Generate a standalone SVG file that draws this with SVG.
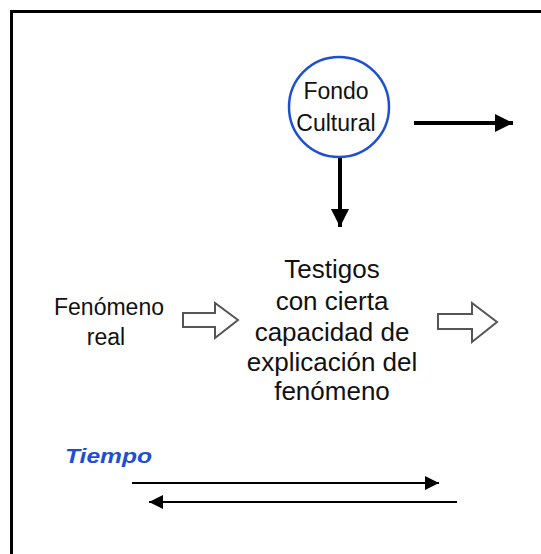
<svg xmlns="http://www.w3.org/2000/svg" width="541" height="554" viewBox="0 0 541 554">
<style>
  text { font-family: "Liberation Sans", Arial, sans-serif; fill: #111; text-anchor: middle; }
  .mid { font-size: 26px; }
  .left { font-size: 23px; }
  .circ { font-size: 23px; }
  .hollow { fill: #fff; stroke: #555; stroke-width: 2; stroke-linejoin: miter; }
  .solid { stroke: #000; stroke-width: 4; fill: none; }
  .thin { stroke: #000; stroke-width: 2; fill: none; }
</style>
<defs>
  <marker id="headBig" viewBox="0 0 10 10" refX="10" refY="5" markerWidth="4.5" markerHeight="5" markerUnits="strokeWidth" orient="auto">
    <path d="M0,0 L10,5 L0,10 Z" fill="#000"/>
  </marker>
  <marker id="headThin" viewBox="0 0 10 10" refX="10" refY="5" markerWidth="7" markerHeight="7" markerUnits="strokeWidth" orient="auto">
    <path d="M0,0 L10,5 L0,10 Z" fill="#000"/>
  </marker>
</defs>
<rect x="0" y="0" width="541" height="554" fill="#fff"/>
<rect x="11.5" y="11.5" width="560" height="560" fill="none" stroke="#000" stroke-width="3"/>

<g id="fondo-cultural">
  <circle cx="339" cy="107" r="50" fill="#fff" stroke="#1d4fd6" stroke-width="2.5"/>
  <text class="circ" x="336" y="99">Fondo</text>
  <text class="circ" x="336" y="131">Cultural</text>
</g>

<g id="fenomeno-real">
  <text class="left" x="109" y="315">Fenómeno</text>
  <text class="left" x="106" y="345">real</text>
</g>

<g id="testigos">
  <text class="mid" x="332" y="278">Testigos</text>
  <text class="mid" x="332" y="310">con cierta</text>
  <text class="mid" x="332" y="341">capacidad de</text>
  <text class="mid" x="332" y="371">explicación del</text>
  <text class="mid" x="332" y="400">fenómeno</text>
</g>

<g id="tiempo">
  <text x="65" y="463" style="font-size:20px;font-weight:bold;font-style:italic;fill:#1d4fd6;text-anchor:start" textLength="87" lengthAdjust="spacingAndGlyphs">Tiempo</text>
</g>

<g id="connectors">
  <line class="solid" x1="414" y1="123" x2="513" y2="123" marker-end="url(#headBig)"/>
  <line class="solid" x1="340" y1="158" x2="340" y2="227" marker-end="url(#headBig)"/>
  <path class="hollow" d="M183,313 L215,313 L215,303 L238,320 L215,338 L215,327 L183,327 Z"/>
  <path class="hollow" d="M438,314 L472,314 L472,303 L497,322 L472,342 L472,329 L438,329 Z"/>
  <line class="thin" x1="132" y1="483" x2="439" y2="483" marker-end="url(#headThin)"/>
  <line class="thin" x1="457" y1="502" x2="149" y2="502" marker-end="url(#headThin)"/>
</g>
</svg>
